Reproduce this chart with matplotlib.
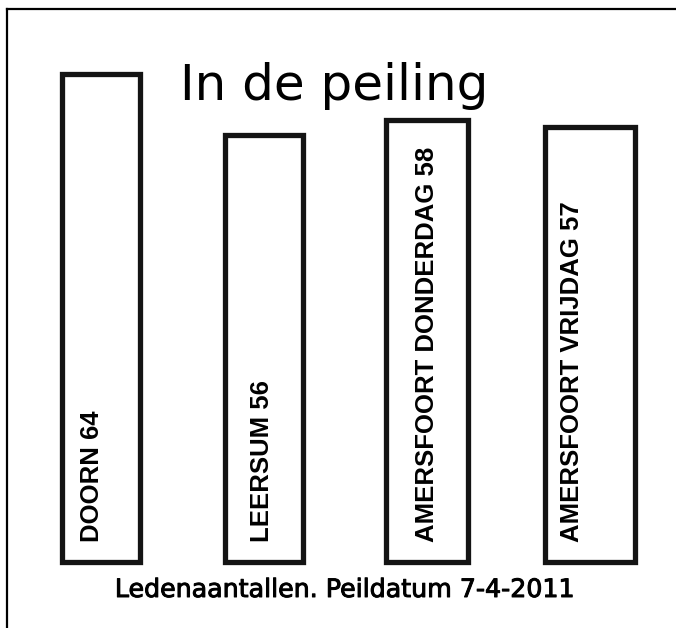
import matplotlib
matplotlib.use('Agg')
import matplotlib.pyplot as plt
import matplotlib.patheffects as pe
from matplotlib.lines import Line2D

# Ledenaantallen per groep (peildatum 7-4-2011)
groepen = ['DOORN', 'LEERSUM', 'AMERSFOORT DONDERDAG', 'AMERSFOORT VRIJDAG']
leden = [64, 56, 58, 57]

titel = 'In de peiling'
onderschrift = 'Ledenaantallen. Peildatum 7-4-2011'

# layout (geen data): breedte per balk en verschuiving van het label
breedtes = [0.48, 0.48, 0.5, 0.55]
label_dx = [-0.055, -0.012, 0.0, -0.11]

fig = plt.figure(figsize=(6.76, 6.28), dpi=100)
ax = fig.add_axes([6/676, 66/628, 670/676, 554/628])

x = list(range(len(leden)))
bars = ax.bar(x, leden, width=breedtes, color='white', edgecolor='#141414',
              linewidth=3.8, clip_on=False)

for i, (naam, n) in enumerate(zip(groepen, leden)):
    ax.text(i + label_dx[i], 2.6, '%s %d' % (naam, n), rotation=90,
            ha='center', va='bottom', fontsize=18.5, fontweight='bold',
            family='Liberation Sans', color='black')

ax.set_xlim(-95/163, 575/163)
ax.set_ylim(0, 554/7.625)
ax.set_xticks([])
ax.set_yticks([])
for s in ax.spines.values():
    s.set_visible(False)

# kader: bovenrand en linkerrand tot onderaan
fig.add_artist(Line2D([6.5/676, 6.5/676], [0, 1 - 8.5/628], transform=fig.transFigure,
                      color='black', linewidth=1.6))
fig.add_artist(Line2D([6.5/676, 1], [1 - 8.5/628, 1 - 8.5/628], transform=fig.transFigure,
                      color='black', linewidth=1.6))

fig.text(334/676, (628-100)/628, titel, ha='center', va='baseline',
         fontsize=36, family='DejaVu Sans', color='black')
fig.text(344/676, (628-597)/628, onderschrift, ha='center', va='baseline',
         fontsize=18.2, family='DejaVu Sans', color='black',
         path_effects=[pe.withStroke(linewidth=0.7, foreground='black')])

fig.savefig('out.png', dpi=100, facecolor='white')
